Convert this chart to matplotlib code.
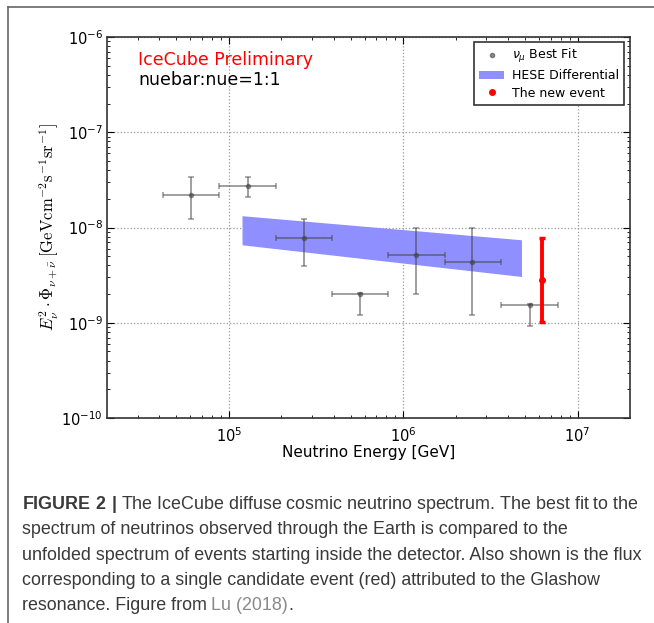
import matplotlib
matplotlib.use("Agg")
import matplotlib.pyplot as plt
import numpy as np
from matplotlib.patches import Patch
from matplotlib.lines import Line2D
from matplotlib.ticker import FixedLocator, NullFormatter, LogFormatterSciNotation

# ---- data ----
numu_E = [6.05e4, 1.28e5, 2.69e5, 5.65e5, 1.19e6, 2.49e6, 5.31e6]
numu_E_lo = [4.19e4, 8.8e4, 1.86e5, 3.93e5, 8.2e5, 1.74e6, 3.66e6]
numu_E_hi = [8.77e4, 1.86e5, 3.93e5, 8.2e5, 1.74e6, 3.66e6, 7.73e6]
numu_flux = [2.22e-8, 2.71e-8, 7.67e-9, 2.0e-9, 5.16e-9, 4.33e-9, 1.52e-9]
numu_flux_lo = [1.24e-8, 2.08e-8, 3.9e-9, 1.22e-9, 2.0e-9, 1.22e-9, 9.3e-10]
numu_flux_hi = [3.43e-8, 3.38e-8, 1.23e-8, 2.05e-9, 9.9e-9, 9.9e-9, 1.56e-9]

hese_E = [1.19e5, 4.77e6]
hese_upper = [1.33e-8, 7.43e-9]
hese_lower = [6.58e-9, 3.06e-9]

event_E = [6.28e6]
event_flux = [2.78e-9]
event_lo = [1.01e-9]
event_hi = [7.72e-9]

x_ticks = [1e5, 1e6, 1e7]
y_ticks = [1e-10, 1e-9, 1e-8, 1e-7, 1e-6]

caption_lines = [
    r"$\mathbf{FIGURE\ 2\ |}$ The IceCube diffuse cosmic neutrino spectrum. The best fit to the",
    "spectrum of neutrinos observed through the Earth is compared to the",
    "unfolded spectrum of events starting inside the detector. Also shown is the flux",
    "corresponding to a single candidate event (red) attributed to the Glashow",
    "resonance. Figure from",
]
caption_link = "Lu (2018)"
caption_end = "."

W, H = 654, 623
plt.rcParams['mathtext.fontset'] = 'dejavusans'
plt.rcParams['mathtext.bf'] = 'Liberation Sans:bold'
plt.rcParams['mathtext.rm'] = 'Liberation Sans'
fig = plt.figure(figsize=(W / 100, H / 100), dpi=100)

ax = fig.add_axes([107 / W, 1 - 418 / H, (630 - 107) / W, (418 - 37) / H])
ax.set_xscale('log')
ax.set_yscale('log')
xlim = (2e4, 2e7)
ylim = (1e-10, 1e-6)
ax.set_xlim(*xlim)
ax.set_ylim(*ylim)

# HESE band
ax.fill_between(hese_E, hese_lower, hese_upper, color='#8f8fff', lw=0, zorder=2)

# numu points
E = np.array(numu_E)
F = np.array(numu_flux)
xerr = [E - np.array(numu_E_lo), np.array(numu_E_hi) - E]
yerr = [F - np.array(numu_flux_lo), np.array(numu_flux_hi) - F]
ax.errorbar(E, F, xerr=xerr, yerr=yerr, fmt='o', ms=3, color='#404040', alpha=0.5,
            elinewidth=1.4, capsize=2.5, capthick=1.2, zorder=3)

# red event
eE = np.array(event_E)
eF = np.array(event_flux)
ax.errorbar(eE, eF, yerr=[eF - np.array(event_lo), np.array(event_hi) - eF], fmt='o', ms=4,
            color='red', elinewidth=2.8, capsize=2.5, capthick=2.5, zorder=4)


def minor_ticks(lo, hi):
    out = []
    for d in range(int(np.floor(np.log10(lo))), int(np.ceil(np.log10(hi))) + 1):
        for s in range(2, 10):
            v = s * 10.0 ** d
            if lo < v < hi:
                out.append(v)
    return out


# axes styling
ax.xaxis.set_major_locator(FixedLocator(x_ticks))
ax.yaxis.set_major_locator(FixedLocator(y_ticks))
ax.xaxis.set_minor_locator(FixedLocator(minor_ticks(*xlim)))
ax.yaxis.set_minor_locator(FixedLocator(minor_ticks(*ylim)))
ax.xaxis.set_major_formatter(LogFormatterSciNotation())
ax.yaxis.set_major_formatter(LogFormatterSciNotation())
ax.xaxis.set_minor_formatter(NullFormatter())
ax.yaxis.set_minor_formatter(NullFormatter())
ax.grid(True, which='major', ls=':', color='#999999', lw=0.9)
ax.tick_params(which='both', direction='in', top=True, right=True)
ax.tick_params(which='major', length=5, labelsize=10.5)
ax.tick_params(axis='x', which='major', pad=6)
ax.tick_params(axis='y', which='major', pad=3)
ax.tick_params(which='minor', length=2.5)
for s in ax.spines.values():
    s.set_color('#333333')
    s.set_linewidth(1.2)

ax.set_xlabel('Neutrino Energy [GeV]', fontsize=11, labelpad=0)
ax.set_ylabel(r'$\mathit{E}_\nu^2\cdot\Phi_{\nu+\bar{\nu}}\;[\mathrm{GeVcm^{-2}s^{-1}sr^{-1}}]$',
              fontsize=12)
ax.yaxis.label.set_math_fontfamily('cm')
ax.yaxis.set_label_coords((61 - 107) / 523, 0.5)

fig.text(138 / W, 1 - 60 / H, 'IceCube Preliminary', color='red', fontsize=12.5,
         va='center', ha='left')
fig.text(138 / W, 1 - 80 / H, 'nuebar:nue=1:1', color='black', fontsize=12.5,
         va='center', ha='left')

handles = [
    Line2D([], [], ls='none', marker='o', ms=3, color='#404040', alpha=0.6),
    Patch(facecolor='#8f8fff', edgecolor='none'),
    Line2D([], [], ls='none', marker='o', ms=4, color='red'),
]
labels = [r'$\nu_\mu$ Best Fit', 'HESE Differential', 'The new event']
leg = ax.legend(handles, labels, loc='upper right', fontsize=9, fancybox=False,
                framealpha=1, edgecolor='#333333', borderpad=0.4, labelspacing=0.35,
                handlelength=2.0, handletextpad=0.6, borderaxespad=0,
                bbox_to_anchor=(1 - 6 / 523, 1 - 5 / 381))
leg.get_frame().set_linewidth(1.2)

# figure frame (top and left)
fig.add_artist(Line2D([7.5 / W, 7.5 / W], [0, 1 - 6.5 / H], color='#666666', lw=1.2,
                      transform=fig.transFigure))
fig.add_artist(Line2D([7.5 / W, 1], [1 - 6.5 / H, 1 - 6.5 / H], color='#666666', lw=1.2,
                      transform=fig.transFigure))

# caption
fig.canvas.draw()
r = fig.canvas.get_renderer()
cap_fs = 12.9
cap_font = 'Liberation Sans'
ys = [503, 528, 554, 579, 604]
x0 = 22 / W
off = 6
caps = []
for i in range(5):
    t = fig.text(x0, 1 - (ys[i] + off) / H, caption_lines[i], fontsize=cap_fs,
                 family=cap_font, color='#3a3a3a', va='baseline', ha='left')
    if i == 0:
        t.set_math_fontfamily('custom')
    caps.append(t)
bb5 = caps[4].get_window_extent(r)
t6 = fig.text((bb5.x1 + 4) / W, 1 - (ys[4] + off) / H, caption_link, fontsize=cap_fs,
              family=cap_font, color='#8a8a8a', va='baseline', ha='left')
bb6 = t6.get_window_extent(r)
fig.text((bb6.x1 + 1) / W, 1 - (ys[4] + off) / H, caption_end, fontsize=cap_fs,
         family=cap_font, color='#3a3a3a', va='baseline', ha='left')

fig.savefig('out.png', dpi=100)
